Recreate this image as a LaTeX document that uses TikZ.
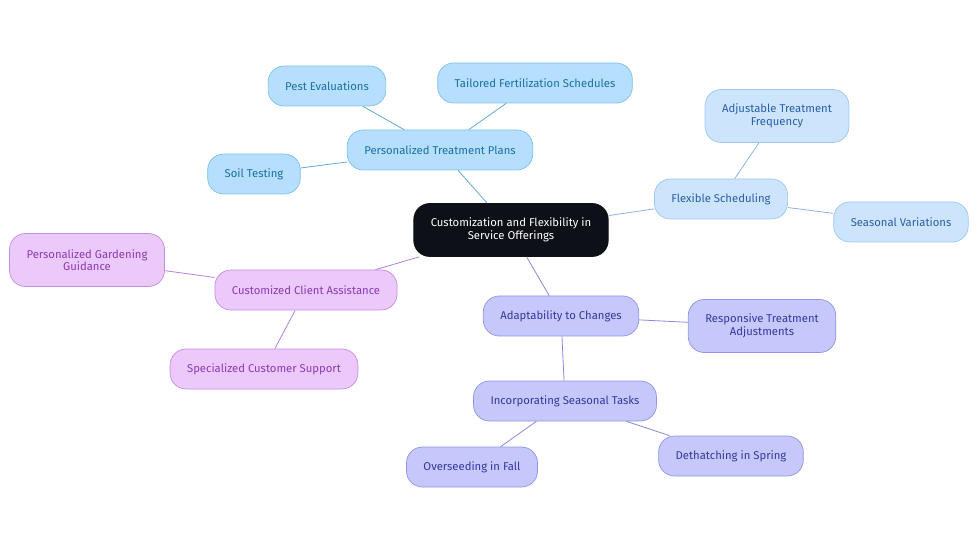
\documentclass[tikz,border=0pt]{standalone}
\usepackage{fontspec}
\setmainfont{Fira Sans}
\definecolor{rootfill}{HTML}{0D1117}
\definecolor{skyfill}{HTML}{B5DFFC}
\definecolor{skyline}{HTML}{7DC0EC}
\definecolor{skytext}{HTML}{1A70A8}
\definecolor{skyedge}{HTML}{62A9DA}
\definecolor{palefill}{HTML}{CDE5FC}
\definecolor{paleline}{HTML}{9EC6F0}
\definecolor{paletext}{HTML}{2A5EA8}
\definecolor{paleedge}{HTML}{8AB4E8}
\definecolor{lilacfill}{HTML}{EBC9FB}
\definecolor{lilacline}{HTML}{C68BE2}
\definecolor{lilactext}{HTML}{8A3BB5}
\definecolor{lilacedge}{HTML}{B57FE0}
\definecolor{indigofill}{HTML}{C6C8FC}
\definecolor{indigoline}{HTML}{9094E8}
\definecolor{indigotext}{HTML}{3A35A0}
\definecolor{indigoedge}{HTML}{8A86DE}
\tikzset{
  topic/.style={rounded corners=16pt, minimum height=40pt, inner xsep=17pt,
    align=center, font=\fontsize{11.3}{12.5}\selectfont, line width=0.7pt},
  rootbox/.style={topic, fill=rootfill, draw=rootfill, text=white, minimum height=53pt},
  skybox/.style={topic, fill=skyfill, draw=skyline, text=skytext},
  palebox/.style={topic, fill=palefill, draw=paleline, text=paletext},
  lilacbox/.style={topic, fill=lilacfill, draw=lilacline, text=lilactext},
  indigobox/.style={topic, fill=indigofill, draw=indigoline, text=indigotext},
  twoline/.style={minimum height=53pt}
}
\begin{document}
\begin{tikzpicture}[x=1pt, y=-1pt]
   \useasboundingbox (0,0) rectangle (980,553);

   % Root
   \node[rootbox] (root) at (511,230) {Customization and Flexibility in\\Service Offerings};

   % Personalized treatment branch
   \node[skybox] (plans) at (440,150) {Personalized Treatment Plans};
   \node[skybox] (pest) at (327,86) {Pest Evaluations};
   \node[skybox] (fert) at (535,83) {Tailored Fertilization Schedules};
   \node[skybox] (soil) at (254,174) {Soil Testing};

   % Scheduling branch
   \node[palebox] (sched) at (721,199) {Flexible Scheduling};
   \node[palebox, twoline] (freq) at (777,116) {Adjustable Treatment\\Frequency};
   \node[palebox] (season) at (901,222) {Seasonal Variations};

   % Client assistance branch
   \node[lilacbox] (client) at (306,290) {Customized Client Assistance};
   \node[lilacbox, twoline] (guide) at (87,260) {Personalized Gardening\\Guidance};
   \node[lilacbox] (support) at (264,369) {Specialized Customer Support};

   % Adaptability branch
   \node[indigobox] (adapt) at (561,316) {Adaptability to Changes};
   \node[indigobox, twoline] (respond) at (762,326) {Responsive Treatment\\Adjustments};
   \node[indigobox] (tasks) at (565,401) {Incorporating Seasonal Tasks};
   \node[indigobox] (fall) at (472,467) {Overseeding in Fall};
   \node[indigobox] (spring) at (731,456) {Dethatching in Spring};

   % Connectors
   \draw[skyedge, line width=0.8pt] (root) -- (plans);
   \draw[skyedge, line width=0.8pt] (plans) -- (pest);
   \draw[skyedge, line width=0.8pt] (plans) -- (fert);
   \draw[skyedge, line width=0.8pt] (plans) -- (soil);
   \draw[paleedge, line width=0.8pt] (root) -- (sched);
   \draw[paleedge, line width=0.8pt] (sched) -- (freq);
   \draw[paleedge, line width=0.8pt] (sched) -- (season);
   \draw[lilacedge, line width=0.8pt] (root) -- (client);
   \draw[lilacedge, line width=0.8pt] (client) -- (guide);
   \draw[lilacedge, line width=0.8pt] (client) -- (support);
   \draw[indigoedge, line width=0.8pt] (root) -- (adapt);
   \draw[indigoedge, line width=0.8pt] (adapt) -- (respond);
   \draw[indigoedge, line width=0.8pt] (adapt) -- (tasks);
   \draw[indigoedge, line width=0.8pt] (tasks) -- (fall);
   \draw[indigoedge, line width=0.8pt] (tasks) -- (spring);
\end{tikzpicture}
\end{document}
